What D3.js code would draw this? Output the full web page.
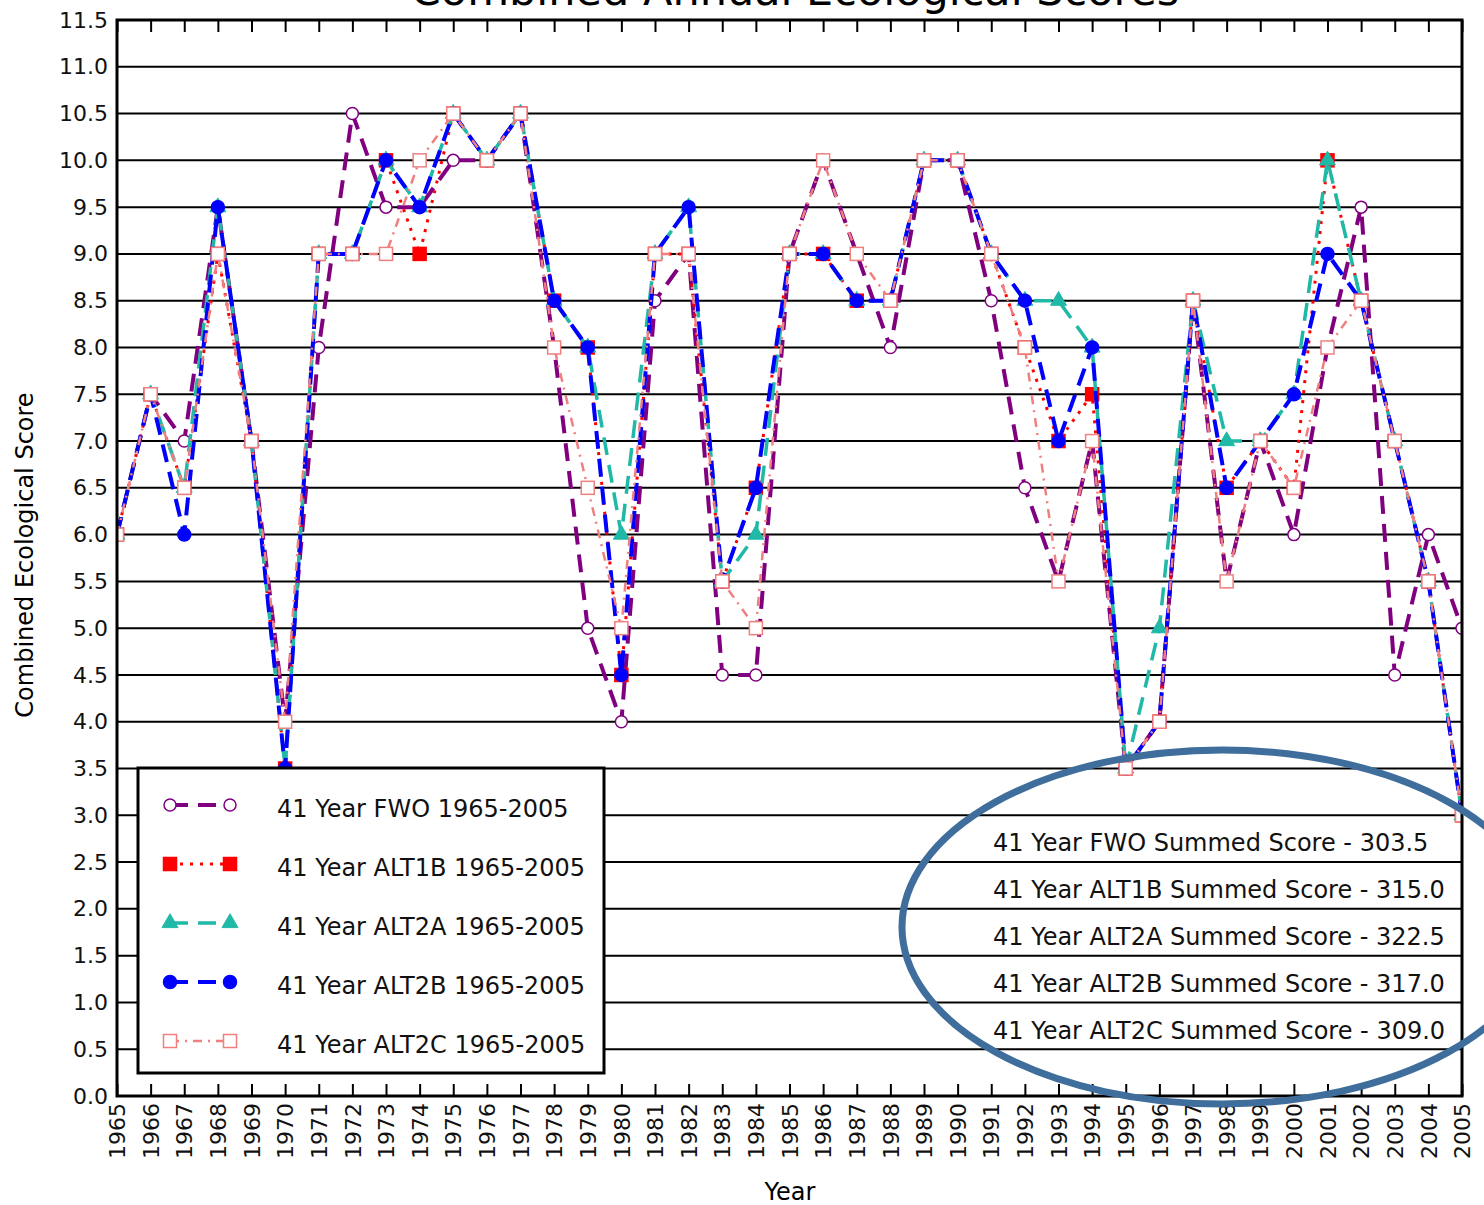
<!DOCTYPE html>
<html>
<head>
<meta charset="utf-8">
<script src="https://cdn.jsdelivr.net/npm/d3@7/dist/d3.min.js"></script>
<style>
  body { margin: 0; background: #fff; }
  svg { display: block; font-family: "DejaVu Sans", sans-serif; }
</style>
</head>
<body>
<svg id="chart" width="1484" height="1205"></svg>
<script>
// years on the x axis
const years = [1965, 1966, 1967, 1968, 1969, 1970, 1971, 1972, 1973, 1974,
  1975, 1976, 1977, 1978, 1979, 1980, 1981, 1982, 1983, 1984,
  1985, 1986, 1987, 1988, 1989, 1990, 1991, 1992, 1993, 1994,
  1995, 1996, 1997, 1998, 1999, 2000, 2001, 2002, 2003, 2004, 2005];

// combined ecological score per year
const fwo   = [6.0, 7.5, 7.0, 9.5, 7.0, 4.0, 8.0, 10.5, 9.5, 9.5,
  10.0, 10.0, 10.5, 8.0, 5.0, 4.0, 8.5, 9.0, 4.5, 4.5,
  9.0, 10.0, 9.0, 8.0, 10.0, 10.0, 8.5, 6.5, 5.5, 7.0,
  3.5, 4.0, 8.5, 5.5, 7.0, 6.0, 8.0, 9.5, 4.5, 6.0, 5.0];
const alt1b = [6.0, 7.5, 6.5, 9.0, 7.0, 3.5, 9.0, 9.0, 10.0, 9.0,
  10.5, 10.0, 10.5, 8.5, 8.0, 4.5, 9.0, 9.0, 5.5, 6.5,
  9.0, 9.0, 8.5, 8.5, 10.0, 10.0, 9.0, 8.0, 7.0, 7.5,
  3.5, 4.0, 8.5, 6.5, 7.0, 6.5, 10.0, 8.5, 7.0, 5.5, 3.0];
const alt2a = [6.0, 7.5, 6.5, 9.5, 7.0, 3.5, 9.0, 9.0, 10.0, 9.5,
  10.5, 10.0, 10.5, 8.5, 8.0, 6.0, 9.0, 9.5, 5.5, 6.0,
  9.0, 9.0, 8.5, 8.5, 10.0, 10.0, 9.0, 8.5, 8.5, 8.0,
  3.5, 5.0, 8.5, 7.0, 7.0, 7.5, 10.0, 8.5, 7.0, 5.5, 3.0];
const alt2b = [6.0, 7.5, 6.0, 9.5, 7.0, 3.5, 9.0, 9.0, 10.0, 9.5,
  10.5, 10.0, 10.5, 8.5, 8.0, 4.5, 9.0, 9.5, 5.5, 6.5,
  9.0, 9.0, 8.5, 8.5, 10.0, 10.0, 9.0, 8.5, 7.0, 8.0,
  3.5, 4.0, 8.5, 6.5, 7.0, 7.5, 9.0, 8.5, 7.0, 5.5, 3.0];
const alt2c = [6.0, 7.5, 6.5, 9.0, 7.0, 4.0, 9.0, 9.0, 9.0, 10.0,
  10.5, 10.0, 10.5, 8.0, 6.5, 5.0, 9.0, 9.0, 5.5, 5.0,
  9.0, 10.0, 9.0, 8.5, 10.0, 10.0, 9.0, 8.0, 5.5, 7.0,
  3.5, 4.0, 8.5, 5.5, 7.0, 6.5, 8.0, 8.5, 7.0, 5.5, 3.0];

const legendLabels = ["41 Year FWO 1965-2005", "41 Year ALT1B 1965-2005",
  "41 Year ALT2A 1965-2005", "41 Year ALT2B 1965-2005", "41 Year ALT2C 1965-2005"];
const summedLabels = ["41 Year FWO Summed Score - 303.5", "41 Year ALT1B Summed Score - 315.0",
  "41 Year ALT2A Summed Score - 322.5", "41 Year ALT2B Summed Score - 317.0",
  "41 Year ALT2C Summed Score - 309.0"];

const series = [
  { label: legendLabels[0], values: fwo,   color: "#800080", width: 4,   dash: "18,10",   marker: "circle",   filled: false },
  { label: legendLabels[1], values: alt1b, color: "#ff0000", width: 3,   dash: "3,7",     marker: "square",   filled: true },
  { label: legendLabels[2], values: alt2a, color: "#20b8a6", width: 3.5, dash: "18,10",   marker: "triangle", filled: true },
  { label: legendLabels[3], values: alt2b, color: "#0000ff", width: 4,   dash: "18,10",   marker: "circle",   filled: true },
  { label: legendLabels[4], values: alt2c, color: "#f08080", width: 2.5, dash: "9,6,2,6", marker: "square",   filled: false }
];

const svg = d3.select("#chart");
const plotLeft = 117, plotRight = 1462, plotTop = 20, plotBottom = 1096;

const x = d3.scaleLinear().domain([1965, 2005]).range([plotLeft, plotRight]);
const y = d3.scaleLinear().domain([0, 11.5]).range([plotBottom, plotTop]);
const yTicks = d3.range(0, 24).map(i => i * 0.5);

// title: the reference shows it cropped at the top edge
svg.append("text")
  .attr("x", 795).attr("y", 5)
  .attr("text-anchor", "middle")
  .attr("font-size", 43)
  .text("Combined Annual Ecological Scores");

// horizontal grid
svg.append("g")
  .selectAll("line")
  .data(yTicks)
  .enter()
  .append("line")
  .attr("x1", plotLeft).attr("x2", plotRight)
  .attr("y1", d => y(d)).attr("y2", d => y(d))
  .attr("stroke", "#000")
  .attr("stroke-width", 2);

// y axis labels
const axisL = d3.axisLeft(y).tickValues(yTicks).tickFormat(d3.format(".1f")).tickSize(0).tickPadding(9);
const gL = svg.append("g").attr("transform", `translate(${plotLeft},0)`).call(axisL);
gL.select(".domain").remove();
gL.selectAll("text").attr("font-size", 22).attr("font-family", "DejaVu Sans").attr("fill", "#111");

// x axis: ticks inward, labels rotated
const axisB = d3.axisBottom(x).tickValues(years).tickFormat(d3.format("d")).tickSize(-12);
const gB = svg.append("g").attr("transform", `translate(0,${plotBottom})`).call(axisB);
gB.select(".domain").remove();
gB.selectAll("line").attr("stroke", "#000").attr("stroke-width", 2);
gB.selectAll("text")
  .attr("font-size", 22).attr("font-family", "DejaVu Sans").attr("fill", "#111")
  .attr("transform", "rotate(-90)")
  .attr("text-anchor", "end")
  .attr("x", -7).attr("y", 0).attr("dy", "0.35em");

const axisT = d3.axisTop(x).tickValues(years).tickFormat("").tickSize(-12);
const gT = svg.append("g").attr("transform", `translate(0,${plotTop})`).call(axisT);
gT.select(".domain").remove();
gT.selectAll("line").attr("stroke", "#000").attr("stroke-width", 2);

// axis titles
svg.append("text")
  .attr("transform", "translate(33,555) rotate(-90)")
  .attr("text-anchor", "middle")
  .attr("font-size", 24)
  .text("Combined Ecological Score");
svg.append("text")
  .attr("x", 790).attr("y", 1200)
  .attr("text-anchor", "middle")
  .attr("font-size", 24)
  .text("Year");

// plot data
svg.append("clipPath").attr("id", "plotclip")
  .append("rect").attr("x", plotLeft).attr("y", plotTop)
  .attr("width", plotRight - plotLeft).attr("height", plotBottom - plotTop);

const plot = svg.append("g").attr("clip-path", "url(#plotclip)");

function drawMarker(sel, s, px, py) {
  const fill = s.filled ? s.color : "#fff";
  if (s.marker === "circle") {
    sel.append("circle").attr("cx", px).attr("cy", py).attr("r", s.filled ? 6.5 : 6)
      .attr("fill", fill).attr("stroke", s.color).attr("stroke-width", 1.5);
  } else if (s.marker === "square") {
    sel.append("rect").attr("x", px - 6.5).attr("y", py - 6.5).attr("width", 13).attr("height", 13)
      .attr("fill", fill).attr("stroke", s.color).attr("stroke-width", 1.5);
  } else {
    sel.append("path").attr("transform", `translate(${px},${py})`)
      .attr("d", d3.symbol(d3.symbolTriangle, 110)())
      .attr("fill", fill).attr("stroke", s.color).attr("stroke-width", 1);
  }
}

const line = d3.line().x((d, i) => x(years[i])).y(d => y(d));

series.forEach(s => {
  const g = plot.append("g");
  g.append("path")
    .attr("d", line(s.values))
    .attr("fill", "none")
    .attr("stroke", s.color)
    .attr("stroke-width", s.width)
    .attr("stroke-dasharray", s.dash)
    .attr("stroke-linejoin", "round");
  s.values.forEach((v, i) => drawMarker(g, s, x(years[i]), y(v)));
});

// summed score notes
svg.append("g")
  .selectAll("text")
  .data(summedLabels)
  .enter()
  .append("text")
  .attr("x", 993)
  .attr("y", (d, i) => 851 + i * 47)
  .attr("font-size", 24)
  .attr("fill", "#111")
  .text(d => d);

// frame
svg.append("rect")
  .attr("x", plotLeft).attr("y", plotTop)
  .attr("width", plotRight - plotLeft).attr("height", plotBottom - plotTop)
  .attr("fill", "none").attr("stroke", "#000").attr("stroke-width", 3);

// legend
const lg = svg.append("g");
lg.append("rect")
  .attr("x", 138).attr("y", 768).attr("width", 466).attr("height", 305)
  .attr("fill", "#fff").attr("stroke", "#000").attr("stroke-width", 3);
series.forEach((s, i) => {
  const ly = 805 + i * 59;
  lg.append("line")
    .attr("x1", 170).attr("x2", 230).attr("y1", ly).attr("y2", ly)
    .attr("stroke", s.color).attr("stroke-width", s.width)
    .attr("stroke-dasharray", s.dash);
  drawMarker(lg, s, 170, ly);
  drawMarker(lg, s, 230, ly);
  lg.append("text")
    .attr("x", 277).attr("y", ly + 12)
    .attr("font-size", 24)
    .attr("fill", "#111")
    .text(s.label);
});

// hand-drawn highlight around the summed scores
svg.append("ellipse")
  .attr("cx", 1222).attr("cy", 927).attr("rx", 320).attr("ry", 177)
  .attr("fill", "none")
  .attr("stroke", "#3f6e9c")
  .attr("stroke-width", 7);
</script>
</body>
</html>
